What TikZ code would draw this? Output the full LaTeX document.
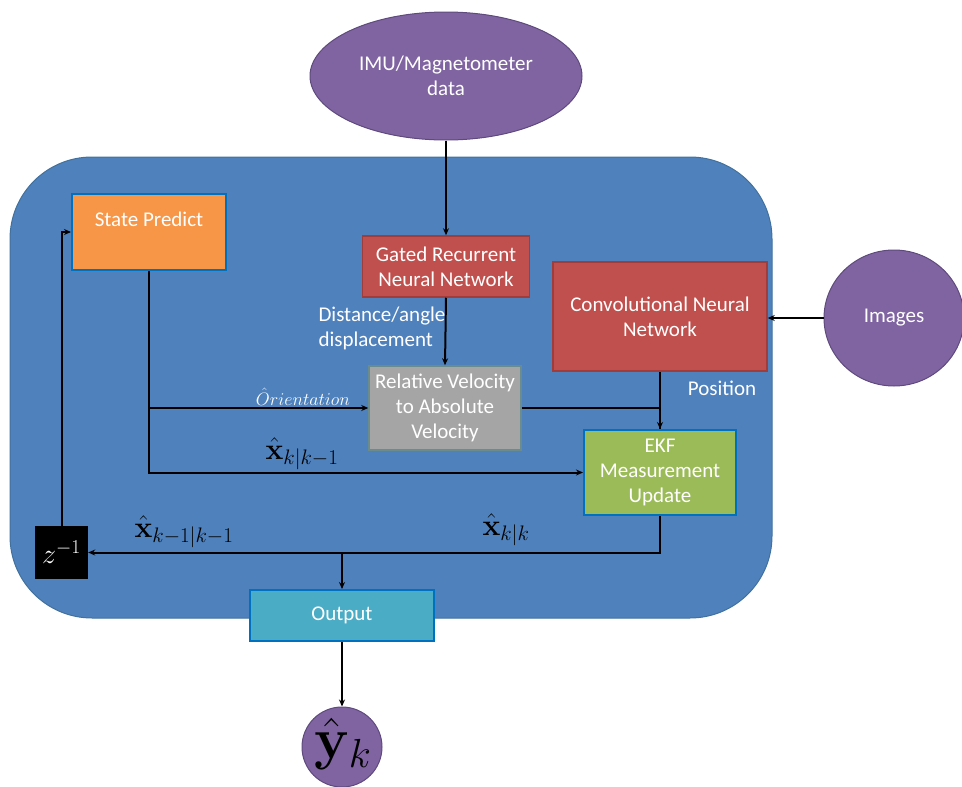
\RequirePackage{fix-cm}
\documentclass[tikz,border=0pt]{standalone}
\usepackage[no-math]{fontspec}
\setmainfont{Carlito}
\usetikzlibrary{shapes.geometric,arrows.meta,calc}
\definecolor{panel}{HTML}{4F81BD}
\definecolor{panelline}{HTML}{41719C}
\definecolor{violet}{HTML}{8064A2}
\definecolor{violetline}{HTML}{5E4A7D}
\definecolor{orangefill}{HTML}{F79646}
\definecolor{edgeblue}{HTML}{0070C0}
\definecolor{redfill}{HTML}{C0504D}
\definecolor{redline}{HTML}{A03C39}
\definecolor{grayfill}{HTML}{A5A5A5}
\definecolor{grayline}{HTML}{6A8C8C}
\definecolor{greenfill}{HTML}{9BBB59}
\definecolor{cyanfill}{HTML}{4BACC6}
\tikzset{
  txt/.style={text=white, font=\fontsize{21}{25}\selectfont, align=center},
  blk/.style={rectangle, inner sep=0pt, txt},
  bluebox/.style={blk, draw=edgeblue, line width=2pt},
  redbox/.style={blk, fill=redfill, draw=redline, line width=1.5pt},
  blob/.style={ellipse, inner sep=0pt, fill=violet, draw=violetline, line width=1pt, txt},
  arr/.style={line width=2pt, -{Stealth[length=7pt,width=6pt]}},
  wire/.style={line width=2pt},
  eq/.style={inner sep=0pt, font=\fontsize{30}{30}\selectfont}
}
\begin{document}
\begin{tikzpicture}[x=1pt,y=-1pt]
\useasboundingbox (0,0) rectangle (962,787);
% system frame
\draw[fill=panel, draw=panelline, line width=1pt, rounded corners=82pt] (10,157) rectangle (772,618);

% inputs
\node[blob, minimum width=272pt, minimum height=128pt] (imu) at (446,76) {IMU/Magnetometer\\data};
\node[blob, minimum width=140pt, minimum height=136pt] (img) at (894,318) {Images};

% processing blocks
\node[bluebox, fill=orangefill, minimum width=154pt, minimum height=76pt] (sp) at (149,232) {State Predict\\~};
\node[redbox, minimum width=167pt, minimum height=61pt] (gru) at (446,266.5) {Gated Recurrent\\Neural Network};
\node[redbox, minimum width=214pt, minimum height=109pt] (cnn) at (660,316.5) {Convolutional Neural\\Network};
\node[blk, fill=grayfill, draw=grayline, line width=1.5pt, minimum width=152pt, minimum height=84pt] (rv) at (445,408) {Relative Velocity\\to Absolute\\Velocity};
\node[bluebox, fill=greenfill, minimum width=152pt, minimum height=85pt] (ekf) at (660,472.5) {EKF\\Measurement\\Update};
\node[rectangle, fill=black, inner sep=0pt, minimum width=53pt, minimum height=53pt, text=white, font=\fontsize{28}{28}\selectfont] (z) at (61.5,552.5) {$z^{-1}$};
\node[bluebox, fill=cyanfill, minimum width=184pt, minimum height=51pt] (out) at (342,615.5) {Output};
\node[circle, fill=violet, draw=violetline, line width=1pt, minimum size=80pt, inner sep=0pt] (yk) at (342,747) {};
\node[inner sep=0pt, font=\fontsize{58}{58}\selectfont] (yklabel) at (343,744) {$\hat{\mathbf{y}}_k$};

% connectors
\draw[arr] (imu.south) -- (gru.north);
\draw[arr] (gru.south) -- (rv.north);
\draw[arr] (sp.south) |- (rv.west);
\draw[arr] (sp.south) |- (ekf.west);
\draw[wire] (rv.east) -| (ekf.north);
\draw[arr] (cnn.south) -- (ekf.north);
\draw[arr] (img.west) -- (img.west -| cnn.east);
\draw[arr] (ekf.south) |- (z.east);
\coordinate (tap) at (out.north |- z.east);
\draw[arr] (tap) -- (out.north);
\draw[arr] (z.north) |- (sp.west);
\draw[arr] (out.south) -- (yk.north);

% signal labels
\node[txt, align=left, anchor=west] (dist) at (315,328) {Distance/angle\\displacement};
\node[txt] (pos) at (722,388) {Position};
\node[inner sep=0pt, text=white, font=\fontsize{18}{18}\selectfont] (ori) at (303,397) {$\hat{O}rientation$};
\node[eq] (xpred) at (302,454) {$\hat{\mathbf{x}}_{k|k-1}$};
\node[eq] (xupd) at (506,530) {$\hat{\mathbf{x}}_{k|k}$};
\node[eq] (xprev) at (184,532) {$\hat{\mathbf{x}}_{k-1|k-1}$};
\end{tikzpicture}
\end{document}
